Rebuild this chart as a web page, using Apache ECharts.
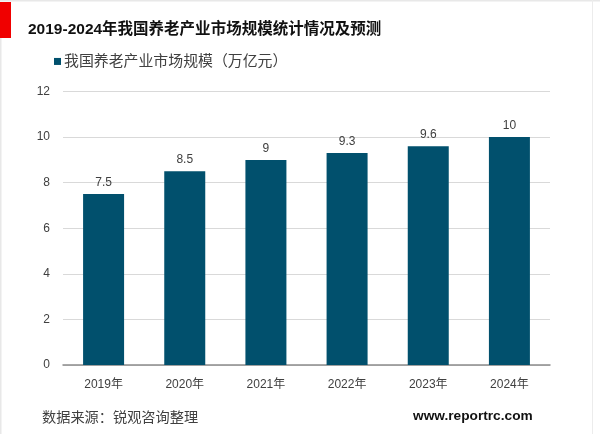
<!DOCTYPE html>
<html><head><meta charset="utf-8">
<style>html,body{margin:0;padding:0;background:#fff}#c{width:600px;height:434px}</style>
<script src="https://cdn.jsdelivr.net/npm/echarts@6/dist/echarts.min.js"></script></head>
<body><div id="c"></div>
<script>
const categories=['2019年','2020年','2021年','2022年','2023年','2024年'];
const values=[7.5,8.5,9,9.3,9.6,10];
const yTicks={min:0,max:12,interval:2};
const seriesName='我国养老产业市场规模（万亿元）';
const title='2019-2024年我国养老产业市场规模统计情况及预测';
const source='数据来源：锐观咨询整理';
const site='www.reportrc.com';
const font='"Liberation Sans","Noto Sans CJK SC",sans-serif';
const chart=echarts.init(document.getElementById('c'),null,{renderer:'canvas'});
chart.setOption({
 animation:false,
 backgroundColor:'#fff',
 title:{text:title,left:28,top:22,padding:0,textStyle:{fontFamily:font,fontSize:15.5,fontWeight:'bold',color:'#111'}},
 legend:{left:54,top:54,padding:0,itemWidth:7,itemHeight:7,itemGap:3,icon:'rect',
  textStyle:{fontFamily:font,fontSize:14.9,color:'#404040',padding:[0,0,0,-2]},data:[seriesName]},
 grid:{left:63,right:50,top:91.5,bottom:69},
 xAxis:{type:'category',data:categories,axisTick:{show:false},
  axisLine:{lineStyle:{color:'#8c8c8c',width:1.5}},
  axisLabel:{fontFamily:font,fontSize:12,color:'#404040',margin:14}},
 yAxis:{type:'value',min:yTicks.min,max:yTicks.max,interval:yTicks.interval,
  axisLine:{show:false},axisTick:{show:false},
  splitLine:{lineStyle:{color:'#d9d9d9',width:1}},
  axisLabel:{fontFamily:font,fontSize:12,color:'#404040',margin:13}},
 series:[{name:seriesName,type:'bar',data:values,barWidth:41,
  itemStyle:{color:'#01506d'},
  label:{show:true,position:'top',distance:5.5,fontFamily:font,fontSize:12,color:'#404040'}}],
 graphic:[
  {type:'rect',shape:{x:0,y:2,width:11,height:36},style:{fill:'#f00000'}},
  {type:'rect',shape:{x:0,y:0,width:600,height:1.5},style:{fill:'#e8e8e8'}},
  {type:'rect',shape:{x:0,y:38,width:1.5,height:396},style:{fill:'#e8e8e8'}},
  {type:'rect',shape:{x:592,y:0,width:1,height:434},style:{fill:'#ececec'}},
  {type:'text',x:42,y:411,style:{text:source,fontFamily:font,fontSize:14.2,fill:'#404040'}},
  {type:'text',x:413,y:409,style:{text:site,fontFamily:font,fontSize:13.7,fontWeight:'bold',fill:'#111'}}
 ]
});
</script></body></html>
